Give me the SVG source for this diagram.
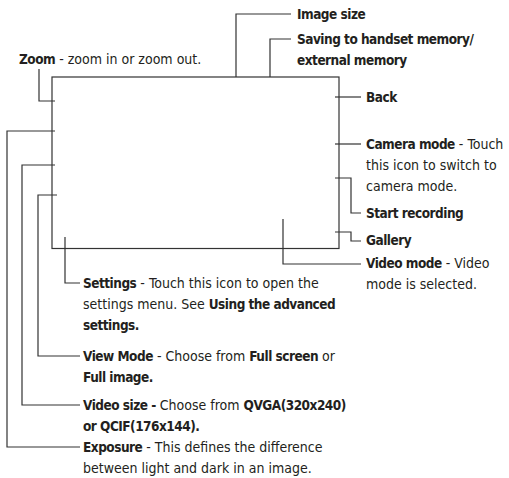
<svg xmlns="http://www.w3.org/2000/svg" width="509" height="478" viewBox="0 0 509 478">
<style>
text{font-family:"DejaVu Sans Condensed","Liberation Sans",sans-serif;font-size:14px;fill:#231f20}
.b{font-weight:bold;font-size:13.5px;letter-spacing:-0.5px}
.ln{fill:none;stroke:#333;stroke-width:1.2}
</style>
<rect width="509" height="478" fill="#fff"/>
<g id="screen"><rect class="ln" x="52" y="77" width="287" height="171.5"/></g>
<g id="connectors">
<polyline class="ln" points="39,69 39,101 55,101"/>
<polyline class="ln" points="236,77 236,14 291,14"/>
<polyline class="ln" points="270,77 270,39 291,39"/>
<polyline class="ln" points="335,97 361,97"/>
<polyline class="ln" points="335,144 361,144"/>
<polyline class="ln" points="335,178 351,178 351,213 361,213"/>
<polyline class="ln" points="335,232 351,232 351,241 361,241"/>
<polyline class="ln" points="283,219 283,264 361,264"/>
<polyline class="ln" points="65,237 65,283 80,283"/>
<polyline class="ln" points="57,195 38,195 38,356 80,356"/>
<polyline class="ln" points="55,165 22,165 22,405 80,405"/>
<polyline class="ln" points="55,131 7,131 7,447 80,447"/>
</g>
<g id="zoom"><text x="19" y="64"><tspan class="b">Zoom</tspan> - zoom in or zoom out.</text></g>
<g id="image-size"><text x="297" y="19" class="b">Image size</text></g>
<g id="saving"><text x="297" y="44" class="b">Saving to handset memory/</text><text x="297" y="65" class="b">external memory</text></g>
<g id="back"><text x="366" y="102" class="b">Back</text></g>
<g id="camera-mode"><text x="366" y="149"><tspan class="b">Camera mode</tspan> - Touch</text><text x="366" y="170">this icon to switch to</text><text x="366" y="191">camera mode.</text></g>
<g id="start-recording"><text x="366" y="218" class="b">Start recording</text></g>
<g id="gallery"><text x="366" y="245" class="b">Gallery</text></g>
<g id="video-mode"><text x="366" y="268"><tspan class="b">Video mode</tspan> - Video</text><text x="366" y="289">mode is selected.</text></g>
<g id="settings"><text x="83" y="288"><tspan class="b">Settings</tspan> - Touch this icon to open the</text><text x="83" y="309">settings menu. See <tspan class="b">Using the advanced</tspan></text><text x="83" y="330" class="b">settings.</text></g>
<g id="view-mode"><text x="83" y="361"><tspan class="b">View Mode</tspan> - Choose from <tspan class="b">Full screen</tspan> or</text><text x="83" y="382" class="b">Full image.</text></g>
<g id="video-size"><text x="83" y="410"><tspan class="b">Video size -</tspan> Choose from <tspan class="b">QVGA(320x240)</tspan></text><text x="83" y="431" class="b">or QCIF(176x144).</text></g>
<g id="exposure"><text x="83" y="452"><tspan class="b">Exposure</tspan> - This defines the difference</text><text x="83" y="473">between light and dark in an image.</text></g>
</svg>
